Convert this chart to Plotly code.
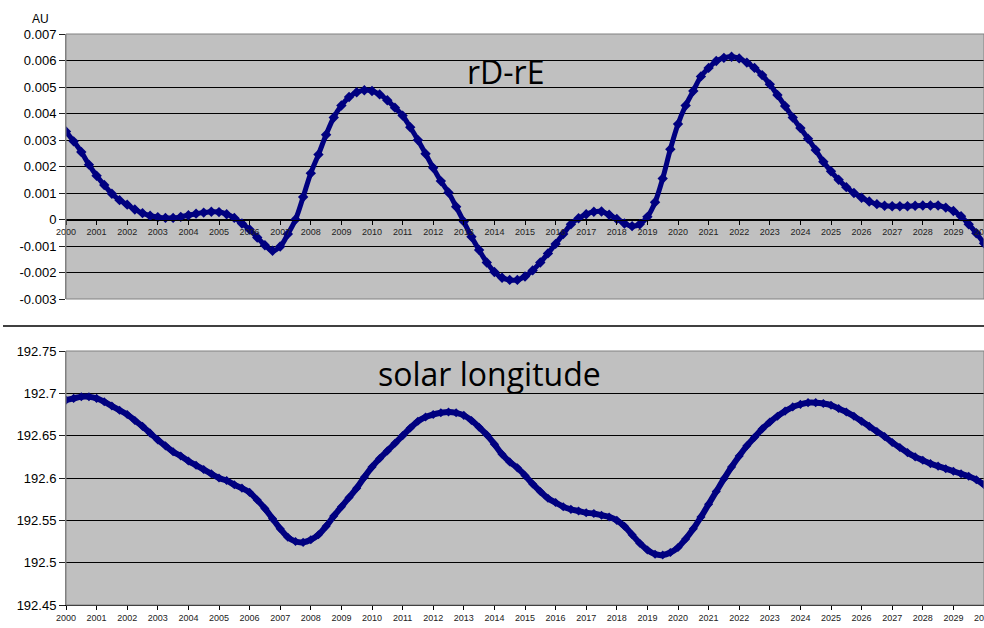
import plotly.graph_objects as go

# ---------------- data ----------------
YEARS = [2000 + 0.25 * i for i in range(121)]

RD_RE = [  # AU (x 0.001)
    3.32, 2.95, 2.55, 2.07, 1.65, 1.30, 0.97, 0.73, 0.56, 0.38, 0.24, 0.14,
    0.09, 0.06, 0.06, 0.10, 0.16, 0.22, 0.26, 0.29, 0.28, 0.20, 0.06, -0.15,
    -0.38, -0.68, -0.97, -1.18, -1.02, -0.55, 0.00, 0.85, 1.75, 2.45, 3.20, 3.85,
    4.30, 4.62, 4.80, 4.88, 4.85, 4.72, 4.50, 4.22, 3.92, 3.48, 3.00, 2.48,
    1.95, 1.45, 1.02, 0.48, -0.08, -0.65, -1.15, -1.62, -1.98, -2.20, -2.28, -2.28,
    -2.15, -1.92, -1.62, -1.28, -0.92, -0.55, -0.18, 0.05, 0.20, 0.29, 0.30, 0.18,
    0.02, -0.15, -0.25, -0.18, 0.10, 0.65, 1.55, 2.65, 3.60, 4.30, 4.85, 5.40,
    5.72, 5.98, 6.10, 6.14, 6.08, 5.92, 5.72, 5.45, 5.10, 4.70, 4.28, 3.85,
    3.45, 3.05, 2.62, 2.18, 1.82, 1.50, 1.22, 1.00, 0.82, 0.68, 0.58, 0.52,
    0.50, 0.50, 0.50, 0.52, 0.53, 0.53, 0.53, 0.45, 0.32, 0.12, -0.18, -0.52,
    -0.90,
]

SOLAR_LON = [
    192.692, 192.694, 192.696, 192.696, 192.694, 192.690, 192.685, 192.680,
    192.675, 192.668, 192.661, 192.653, 192.645, 192.638, 192.631, 192.626,
    192.620, 192.615, 192.610, 192.605, 192.600, 192.597, 192.592, 192.588,
    192.583, 192.574, 192.564, 192.552, 192.540, 192.530, 192.525, 192.524,
    192.527, 192.533, 192.543, 192.555, 192.566, 192.577, 192.588, 192.601,
    192.613, 192.623, 192.632, 192.641, 192.650, 192.659, 192.667, 192.672,
    192.675, 192.677, 192.678, 192.677, 192.674, 192.668, 192.660, 192.651,
    192.640, 192.628, 192.619, 192.612, 192.603, 192.593, 192.584, 192.576,
    192.571, 192.566, 192.563, 192.561, 192.559, 192.558, 192.556, 192.554,
    192.550, 192.543, 192.533, 192.523, 192.515, 192.510, 192.509, 192.512,
    192.518, 192.528, 192.540, 192.554, 192.569, 192.584, 192.599, 192.613,
    192.626, 192.638, 192.648, 192.658, 192.666, 192.673, 192.679, 192.684,
    192.687, 192.689, 192.689, 192.688, 192.686, 192.682, 192.678, 192.673,
    192.667, 192.661, 192.655, 192.649, 192.642, 192.636, 192.630, 192.625,
    192.621, 192.617, 192.614, 192.611, 192.608, 192.605, 192.602, 192.598,
    192.592,
]

X_TICKS = list(range(2000, 2031))
TOP_TICKS = [-0.003, -0.002, -0.001, 0, 0.001, 0.002, 0.003, 0.004, 0.005, 0.006, 0.007]
TOP_TICK_TEXT = ["-0.003", "-0.002", "-0.001", "0", "0.001", "0.002", "0.003",
                 "0.004", "0.005", "0.006", "0.007"]
BOT_TICKS = [192.45, 192.5, 192.55, 192.6, 192.65, 192.7, 192.75]
BOT_TICK_TEXT = ["192.45", "192.5", "192.55", "192.6", "192.65", "192.7", "192.75"]

TITLE_TOP = "rD-rE"
TITLE_BOT = "solar longitude"
UNIT = "AU"

# ---------------- style ----------------
W, H = 984, 628
NAVY = "#000080"
BG = "#C0C0C0"
FONT = "Liberation Sans, Arial, sans-serif"

x_dom = [66 / W, 1.0]
top_dom = [1 - 299 / H, 1 - 34 / H]
bot_dom = [1 - 605 / H, 1 - 351 / H]
top_range = [-0.003, 0.007]
zero_pos = top_dom[0] + (0 - top_range[0]) / (top_range[1] - top_range[0]) * (top_dom[1] - top_dom[0])

fig = go.Figure()
fig.add_trace(go.Scatter(
    x=YEARS, y=[v * 0.001 for v in RD_RE], xaxis="x", yaxis="y",
    mode="lines+markers", line=dict(color=NAVY, width=5, shape="spline"),
    marker=dict(symbol="diamond", size=8, color=NAVY), showlegend=False))
fig.add_trace(go.Scatter(
    x=YEARS, y=SOLAR_LON, xaxis="x2", yaxis="y2",
    mode="lines+markers", line=dict(color=NAVY, width=6, shape="spline"),
    marker=dict(symbol="diamond", size=7, color=NAVY), showlegend=False))

xcommon = dict(range=[2000, 2030], tickvals=X_TICKS, ticktext=[str(t) for t in X_TICKS],
               showgrid=False, zeroline=False, showline=True, linecolor="#000000", linewidth=1,
               ticks="outside", ticklen=4, tickcolor="#000000", automargin=False,
               ticklabeloverflow="allow",
               tickfont=dict(family=FONT, size=9, color="#222222"), tickangle=0)

ycommon = dict(showgrid=True, gridcolor="#000000", gridwidth=1, zeroline=False,
               showline=True, linecolor="#808080", linewidth=1, automargin=False,
               ticks="outside", ticklen=6, tickcolor="#202020",
               tickfont=dict(family=FONT, size=13, color="#000000"))

fig.update_layout(
    width=W, height=H,
    margin=dict(l=0, r=0, t=0, b=0, autoexpand=False),
    paper_bgcolor="white", plot_bgcolor=BG,
    xaxis=dict(domain=x_dom, anchor="free", position=zero_pos, **xcommon),
    yaxis=dict(domain=top_dom, range=top_range, tickvals=TOP_TICKS, ticktext=TOP_TICK_TEXT,
               anchor="x", **ycommon),
    xaxis2=dict(domain=x_dom, anchor="y2", **xcommon),
    yaxis2=dict(domain=bot_dom, range=[192.45, 192.75], tickvals=BOT_TICKS, ticktext=BOT_TICK_TEXT,
                anchor="x2", **ycommon),
    font=dict(family=FONT),
    shapes=[
        dict(type="rect", xref="x domain", yref="y domain", x0=0, x1=1, y0=0, y1=1,
             line=dict(color="#808080", width=1), layer="above"),
        dict(type="rect", xref="x2 domain", yref="y2 domain", x0=0, x1=1, y0=0, y1=1,
             line=dict(color="#808080", width=1), layer="above"),
        dict(type="line", xref="paper", yref="paper", x0=3 / W, x1=1, y0=1 - 326 / H, y1=1 - 326 / H,
             line=dict(color="#000000", width=1.5)),
    ],
    annotations=[
        dict(text=TITLE_TOP, xref="paper", yref="paper", x=505 / W, y=1 - 72 / H,
             xanchor="center", yanchor="middle", showarrow=False,
             font=dict(family="Open Sans", size=32, color="#000000")),
        dict(text=TITLE_BOT, xref="paper", yref="paper", x=489 / W, y=1 - 373 / H,
             xanchor="center", yanchor="middle", showarrow=False,
             font=dict(family="Open Sans", size=32, color="#000000")),
        dict(text=UNIT, xref="paper", yref="paper", x=40 / W, y=1 - 19 / H,
             xanchor="center", yanchor="middle", showarrow=False,
             font=dict(family=FONT, size=12, color="#000000")),
    ],
)

fig.write_html("out.html")
